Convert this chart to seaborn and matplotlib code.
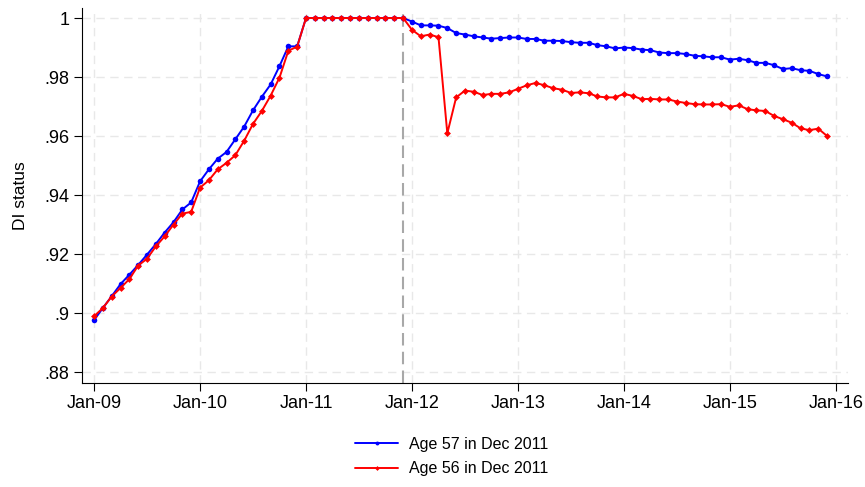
import numpy as np
import pandas as pd
import matplotlib
matplotlib.use("Agg")
import matplotlib.pyplot as plt
import seaborn as sns

# --------------------------
# Data (monthly, Jan-09 .. Dec-15)
# --------------------------
age57 = [
    0.8976, 0.9017, 0.9057, 0.9098, 0.9130, 0.9163, 0.9198, 0.9234, 0.9273, 0.9308,
    0.9351, 0.9375, 0.9446, 0.9487, 0.9523, 0.9546, 0.9589, 0.9632, 0.9687, 0.9733,
    0.9775, 0.9837, 0.9904, 0.9904,
    1, 1, 1, 1, 1, 1, 1, 1, 1, 1, 1, 1,
    0.9988, 0.9975, 0.9975, 0.9974, 0.9966, 0.9949, 0.9944, 0.9938, 0.9934, 0.9930,
    0.9932, 0.9934, 0.9934, 0.9929, 0.9929, 0.9923, 0.9923, 0.9922, 0.9918, 0.9916,
    0.9916, 0.9908, 0.9904, 0.9897, 0.9900, 0.9898, 0.9893, 0.9891, 0.9883, 0.9881,
    0.9881, 0.9878, 0.9872, 0.9870, 0.9867, 0.9867, 0.9859, 0.9862, 0.9857, 0.9848,
    0.9848, 0.9840, 0.9827, 0.9830, 0.9823, 0.9821, 0.9810, 0.9802,
]
age56 = [
    0.8989, 0.9017, 0.9056, 0.9085, 0.9115, 0.9161, 0.9184, 0.9226, 0.9260, 0.9300,
    0.9337, 0.9343, 0.9425, 0.9450, 0.9487, 0.9509, 0.9535, 0.9584, 0.9641, 0.9685,
    0.9737, 0.9798, 0.9889, 0.9903,
    1, 1, 1, 1, 1, 1, 1, 1, 1, 1, 1, 1,
    0.9960, 0.9938, 0.9944, 0.9935, 0.9609, 0.9731, 0.9754, 0.9750, 0.9739, 0.9743,
    0.9743, 0.9748, 0.9760, 0.9772, 0.9780, 0.9772, 0.9762, 0.9757, 0.9746, 0.9748,
    0.9745, 0.9734, 0.9731, 0.9731, 0.9743, 0.9736, 0.9725, 0.9726, 0.9724, 0.9724,
    0.9717, 0.9712, 0.9708, 0.9707, 0.9707, 0.9708, 0.9699, 0.9704, 0.9691, 0.9687,
    0.9685, 0.9668, 0.9657, 0.9645, 0.9626, 0.9620, 0.9625, 0.9600,
]
months = np.arange(len(age57))
tick_labels = ["Jan-09", "Jan-10", "Jan-11", "Jan-12", "Jan-13", "Jan-14", "Jan-15", "Jan-16"]
y_ticks = [0.88, 0.90, 0.92, 0.94, 0.96, 0.98, 1.0]
y_labels = [".88", ".9", ".92", ".94", ".96", ".98", "1"]
reform_month = 35  # Dec 2011

df = pd.DataFrame({"month": months, "Age 57 in Dec 2011": age57, "Age 56 in Dec 2011": age56})

# --------------------------
# Plot
# --------------------------
sns.set_style("white")
plt.rcParams['font.family'] = ['Liberation Sans', 'DejaVu Sans']
plt.rcParams['text.color'] = 'black'
plt.rcParams['axes.labelcolor'] = 'black'
plt.rcParams['xtick.color'] = 'black'
plt.rcParams['ytick.color'] = 'black'

fig = plt.figure(figsize=(8.65, 4.87), dpi=100)
ax = fig.add_axes([0.0948, 0.2136, 0.8855, 0.77])

sns.lineplot(data=df, x="month", y="Age 57 in Dec 2011", color="#0000ff", marker="o",
             markersize=4, markeredgewidth=0, linewidth=1.4, label="Age 57 in Dec 2011", ax=ax)
sns.lineplot(data=df, x="month", y="Age 56 in Dec 2011", color="#ff0000", marker="D",
             markersize=3.5, markeredgewidth=0, linewidth=1.4, label="Age 56 in Dec 2011", ax=ax)

ax.axvline(reform_month, color="#a8a8a8", linestyle=(0, (6, 3)), linewidth=1.5, zorder=1)

ax.set_xlim(-1.36, 85.36)
ax.set_ylim(0.8763, 1.0034)
ax.set_xticks(np.arange(0, 85, 12))
ax.set_xticklabels(tick_labels)
ax.set_yticks(y_ticks)
ax.set_yticklabels(y_labels)
ax.set_xlabel("")
ax.set_ylabel("DI status", fontsize=12.5, labelpad=12)
ax.tick_params(axis="both", labelsize=13, length=6, width=0.8, color="black", direction="out",
               bottom=True, left=True, pad=3)

ax.grid(True, color="#e8e8e8", linestyle=(0, (6, 4)), linewidth=1.0)
ax.set_axisbelow(True)
for side in ["top", "right"]:
    ax.spines[side].set_visible(False)
for side in ["left", "bottom"]:
    ax.spines[side].set_color("black")
    ax.spines[side].set_linewidth(0.8)

ax.legend(loc="upper center", bbox_to_anchor=(0.483, -0.105), ncol=1, frameon=False,
          fontsize=11.5, handlelength=2.7, handletextpad=0.7, markerscale=0.7, labelspacing=0.6)

fig.savefig("out.png", dpi=100)
